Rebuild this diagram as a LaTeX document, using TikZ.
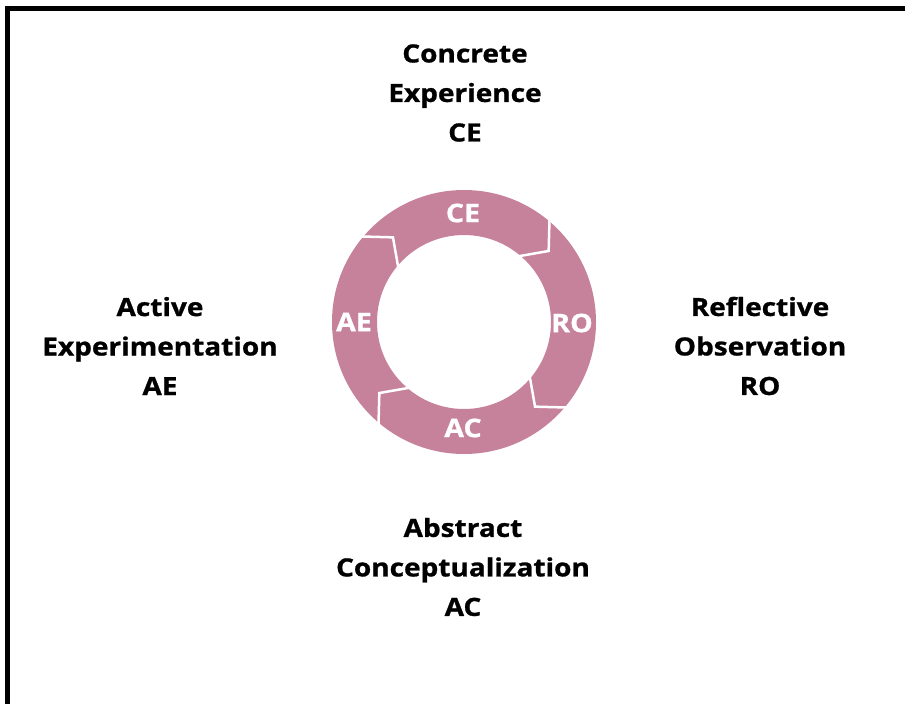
\documentclass[tikz,border=0pt]{standalone}
\usepackage{fontspec}
\setmainfont{Open Sans}[FakeStretch=1.12, BoldFeatures={FakeBold=1}]
\usetikzlibrary{calc}
\definecolor{ringpink}{RGB}{198,129,155}

\tikzset{
    stage/.style={align=center, font=\bfseries\fontsize{25}{39.5}\selectfont},
    ringlabel/.style={text=white, font=\bfseries\fontsize{25.5}{28}\selectfont}
}

\begin{document}
\begin{tikzpicture}[x=1pt, y=1pt]
            \useasboundingbox (0,0) rectangle (905,-704);
            % 外框
            \draw[line width=4.5pt] (7.5,-704) -- (7.5,-8.5) -- (905,-8.5);
            % 圆环
            \coordinate (c) at (464,-322);
            \fill[ringpink, even odd rule] (c) circle (132) (c) circle (87);
            % 分段缺口
            \foreach \a in {50,-40,-130,140} {
                \draw[white, line width=2.5pt, line join=miter]
                    ($(c)+(\a:133)$) -- ($(c)+(\a-10:110.5)$) -- ($(c)+(\a:86)$);
            }
            % 环上标签
            \node (ceIn) [ringlabel] at (463,-213) {CE};
            \node (roIn) [ringlabel] at (572,-323) {RO};
            \node (acIn) [ringlabel] at (463,-428) {AC};
            \node (aeIn) [ringlabel] at (354,-322) {AE};
            % 外侧标签
            \node (ce) [stage] at (465,-93) {Concrete\\Experience\\CE};
            \node (ro) [stage] at (760,-346) {Reflective\\Observation\\RO};
            \node (ac) [stage] at (463,-567) {Abstract\\Conceptualization\\AC};
            \node (ae) [stage] at (160,-346) {Active\\Experimentation\\AE};
        \end{tikzpicture}
\end{document}
